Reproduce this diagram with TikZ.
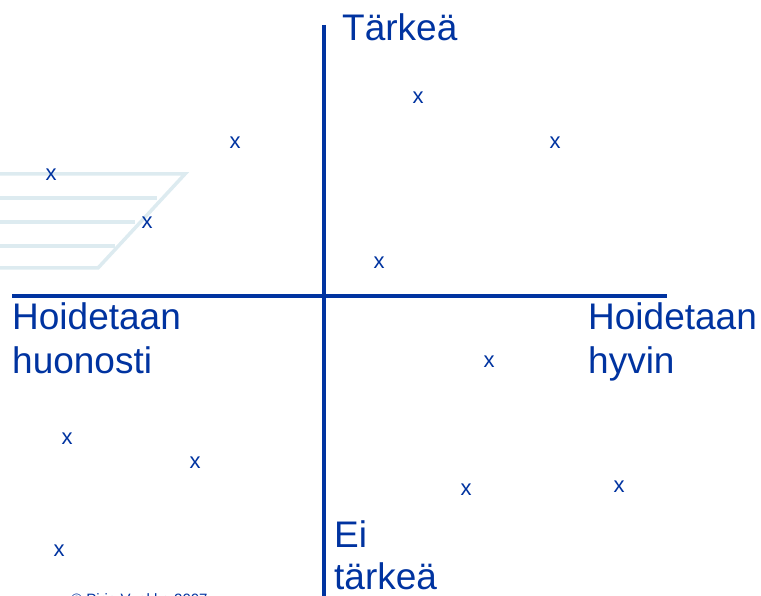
\documentclass[tikz,border=0pt]{standalone}
\usepackage{fontspec}
\setmainfont{Liberation Sans}
\definecolor{axisblue}{HTML}{0033A0}
\definecolor{deco}{HTML}{DDEBF0}
\tikzset{
  axis/.style={axisblue, line width=4pt},
  lbl/.style={text=axisblue, anchor=base west, inner sep=0pt, font=\fontsize{37}{44}\selectfont},
  mark x/.style={text=axisblue, inner sep=0pt, font=\fontsize{22}{26}\selectfont},
  decoline/.style={deco, line width=3.5pt}
}
\begin{document}
\begin{tikzpicture}[x=1pt,y=-1pt]
  \useasboundingbox (0,0) rectangle (761,596);
  \clip (0,0) rectangle (761,596);
  % background stripes
  \draw[decoline] (0,174)--(185,174)--(98,268)--(0,268);
  \draw[decoline] (0,198)--(157,198);
  \draw[decoline] (0,222)--(135,222);
  \draw[decoline] (0,246)--(115,246);
  % axes
  \coordinate (top) at (324,25);
  \coordinate (bottom) at (324,600);
  \coordinate (left) at (12,296.5);
  \coordinate (right) at (667,296.5);
  \draw[axis] (top)--(bottom);
  \draw[axis] (left)--(right);
  % labels
  \node[lbl] (tarkea) at (342,41) {Tärkeä};
  \node[lbl] (huono1) at (12,330) {Hoidetaan};
  \node[lbl] (huono2) at (12,373) {huonosti};
  \node[lbl] (hyvin1) at (588,330) {Hoidetaan};
  \node[lbl] (hyvin2) at (588,373) {hyvin};
  \node[lbl] (ei1) at (334,547) {Ei};
  \node[lbl] (ei2) at (334,589) {tärkeä};
  % marks
  \node[mark x] (m1) at (418,98) {x};
  \node[mark x] (m2) at (235,143) {x};
  \node[mark x] (m3) at (555,143) {x};
  \node[mark x] (m4) at (51,175) {x};
  \node[mark x] (m5) at (147,223) {x};
  \node[mark x] (m6) at (379,263) {x};
  \node[mark x] (m7) at (489,362) {x};
  \node[mark x] (m8) at (67,439) {x};
  \node[mark x] (m9) at (195,463) {x};
  \node[mark x] (m10) at (466,490) {x};
  \node[mark x] (m11) at (619,487) {x};
  \node[mark x] (m12) at (59,551) {x};
  % footer
  \node[text=axisblue, anchor=base west, inner sep=0pt, font=\fontsize{15}{18}\selectfont] (copy) at (71,604) {© Pirjo Vuokko 2007};
\end{tikzpicture}
\end{document}
